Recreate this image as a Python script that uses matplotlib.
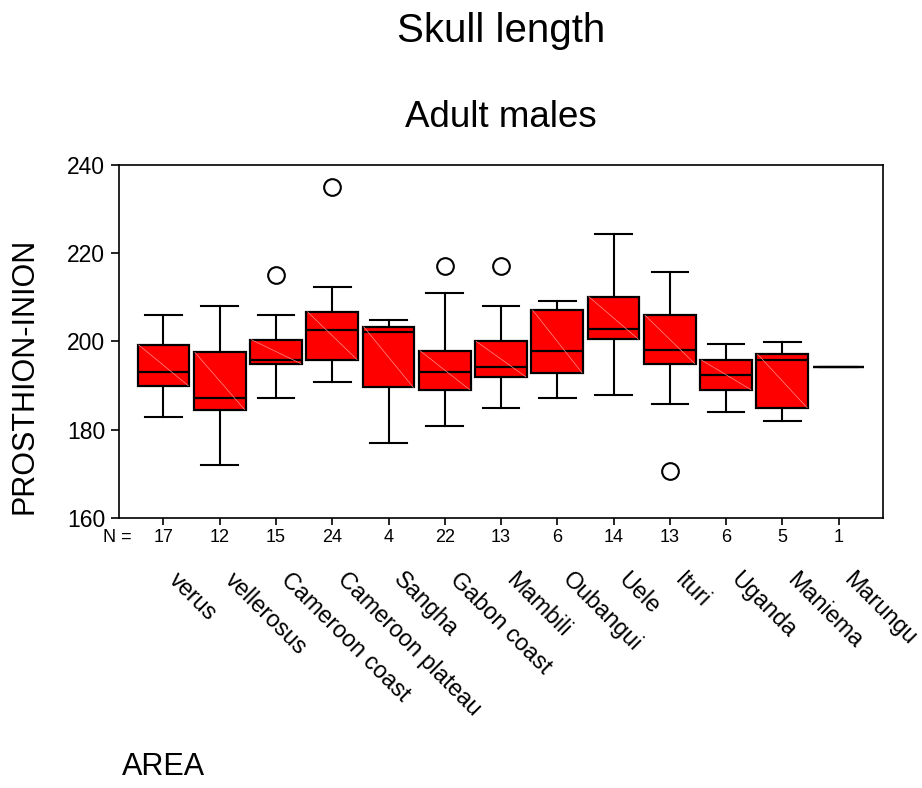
import numpy as np
import matplotlib.pyplot as plt
import matplotlib.transforms as mtransforms

plt.rcParams['font.family'] = ['Liberation Sans', 'DejaVu Sans']

areas = ['verus', 'vellerosus', 'Cameroon coast', 'Cameroon plateau', 'Sangha',
         'Gabon coast', 'Mambili', 'Oubangui', 'Uele', 'Ituri', 'Uganda',
         'Maniema', 'Marungu']
n_counts = [17, 12, 15, 24, 4, 22, 13, 6, 14, 13, 6, 5, 1]

whis_lo = [182.9, 172.1, 187.1, 190.9, 177.1, 180.8, 185.0, 187.1, 187.9, 185.8, 184.1, 182.1, 194.2]
q1 = [190.0, 184.6, 195.0, 195.9, 189.6, 189.1, 192.0, 192.9, 200.5, 195.0, 189.1, 185.0, 194.2]
median = [193.0, 187.2, 195.9, 202.5, 202.1, 193.0, 194.2, 197.9, 202.9, 198.0, 192.5, 195.9, 194.2]
q3 = [199.2, 197.5, 200.4, 206.7, 203.3, 197.9, 200.0, 207.1, 210.1, 205.9, 195.8, 197.1, 194.2]
whis_hi = [205.9, 208.0, 205.9, 212.2, 204.9, 210.9, 208.0, 209.2, 224.2, 215.8, 199.3, 199.9, 194.2]
outliers = [[], [], [215.0], [235.0], [], [217.1], [217.1], [], [], [170.8], [], [], []]

stats = []
for i in range(len(areas)):
    stats.append(dict(med=median[i], q1=q1[i], q3=q3[i],
                      whislo=whis_lo[i], whishi=whis_hi[i], fliers=outliers[i]))

W, H = 922, 788
fig = plt.figure(figsize=(W / 100, H / 100), dpi=100)
ax = fig.add_axes([119 / W, 1 - 518.3 / H, (882.5 - 119) / W, (518.3 - 164.5) / H])

pos = np.arange(1, len(areas) + 1)
ax.bxp(stats, positions=pos, widths=0.92, capwidths=0.65, patch_artist=True, showfliers=True,
       boxprops=dict(facecolor='#ff0000', edgecolor='black', linewidth=1.6),
       medianprops=dict(color='black', linewidth=1.6),
       whiskerprops=dict(color='black', linewidth=1.5),
       capprops=dict(color='black', linewidth=1.5),
       flierprops=dict(marker='o', markerfacecolor='none', markeredgecolor='black',
                       markersize=12, markeredgewidth=1.5))

# faint diagonal inside each box
for i, p in enumerate(pos):
    if q3[i] > q1[i]:
        ax.plot([p - 0.44, p + 0.44], [q3[i], q1[i]], color='#ff8c8c', lw=0.5, zorder=3)

ax.set_xlim(0.21, 13.78)
ax.set_ylim(160, 240)
ax.set_yticks([160, 180, 200, 220, 240])
ax.tick_params(axis='y', labelsize=16.5, length=6, width=1.2, pad=4)
ax.set_xticks(pos)
ax.set_xticklabels([str(n) for n in n_counts])
ax.tick_params(axis='x', labelsize=13, length=5, width=1.2, pad=3)
for s in ax.spines.values():
    s.set_linewidth(1.2)

trans = mtransforms.blended_transform_factory(ax.transData, ax.transAxes)
for p, name in zip(pos, areas):
    ax.text(p + 0.3, -0.14, name, transform=trans, rotation=-45, rotation_mode='anchor',
            ha='left', va='top', fontsize=16.8)

fig.text(102.7 / W, 1 - 538 / H, 'N =', fontsize=13, ha='left', va='center')
fig.text(0.5 * (119 + 882.5) / W, 1 - 42.3 / H, 'Skull length', fontsize=29,
         ha='center', va='baseline')
fig.text(0.5 * (119 + 882.5) / W, 1 - 126.7 / H, 'Adult males', fontsize=26.5,
         ha='center', va='baseline')
fig.text(25 / W, 1 - 375.5 / H, 'PROSTHION-INION', fontsize=22, rotation=90,
         ha='center', va='center')
fig.text(121.7 / W, 1 - 767 / H, 'AREA', fontsize=22, ha='left', va='center')

fig.savefig('out.png', dpi=100)
